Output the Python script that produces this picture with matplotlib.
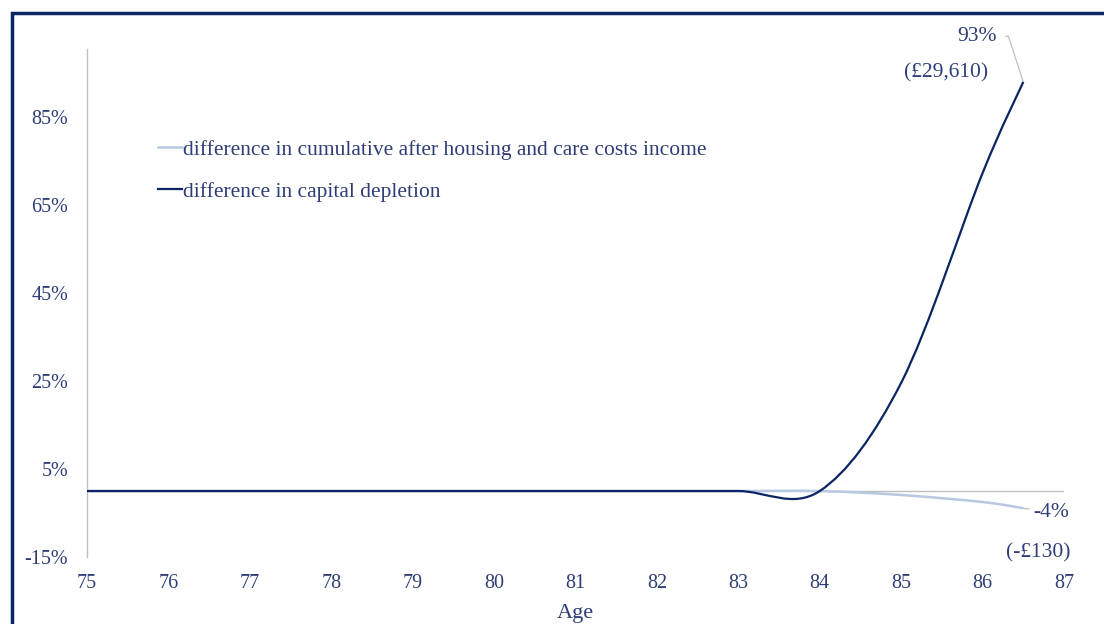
import matplotlib
matplotlib.use("Agg")
import matplotlib.pyplot as plt
from matplotlib.patches import Rectangle, PathPatch
from matplotlib.path import Path
from matplotlib.lines import Line2D

ages = [75, 76, 77, 78, 79, 80, 81, 82, 83, 84, 85, 86, 86.5]
income_diff = [0, 0, 0, 0, 0, 0, 0, 0, 0, 0, -0.9, -2.5, -3.9]
capital_diff = [0, 0, 0, 0, 0, 0, 0, 0, 0, 0, 24.6, 72.3, 93]
series_names = ["difference in cumulative after housing and care costs income",
                "difference in capital depletion"]
y_ticks = [-15, 5, 25, 45, 65, 85]
x_ticks = list(range(75, 88))

NAVY_TEXT = "#2E3D76"
DARK = "#0B2463"
LIGHT = "#B8C8E2"
AXIS = "#BFBFBF"

plt.rcParams['font.family'] = ['Liberation Serif', 'DejaVu Serif']


def smooth_path(xs, ys):
    """Excel-style smoothed line as cubic Bezier segments through the points."""
    n = len(xs)
    verts = [(xs[0], ys[0])]
    codes = [Path.MOVETO]
    for i in range(n - 1):
        a = i - 1 if i > 0 else i
        b = i + 2 if i + 2 < n else i + 1
        c1 = (xs[i] + (xs[i + 1] - xs[a]) / 6, ys[i] + (ys[i + 1] - ys[a]) / 6)
        c2 = (xs[i + 1] - (xs[b] - xs[i]) / 6, ys[i + 1] - (ys[b] - ys[i]) / 6)
        verts += [c1, c2, (xs[i + 1], ys[i + 1])]
        codes += [Path.CURVE4] * 3
    return Path(verts, codes)


fig = plt.figure(figsize=(11.04, 6.24), dpi=100)
W, H = 1104, 624
ax = fig.add_axes([87 / W, 1 - 557 / H, 977 / W, (557 - 49) / H])

ax.set_xlim(75, 87)
ax.set_ylim(-15, 100.5)
ax.axhline(0, color=AXIS, lw=1.0, zorder=2)

ax.add_patch(PathPatch(smooth_path(ages, income_diff), fill=False,
                       edgecolor=LIGHT, lw=1.8, zorder=3, capstyle='butt'))
ax.add_patch(PathPatch(smooth_path(ages, capital_diff), fill=False,
                       edgecolor=DARK, lw=1.6, zorder=4))

for s in ['top', 'right', 'bottom']:
    ax.spines[s].set_visible(False)
ax.spines['left'].set_color(AXIS)
ax.spines['left'].set_linewidth(1.0)

ax.set_yticks(y_ticks)
ax.set_yticklabels([f"{v}%" for v in y_ticks])
ax.set_xticks(x_ticks)
ax.set_xticklabels([str(v) for v in x_ticks])
ax.tick_params(axis='both', length=0, colors=NAVY_TEXT, labelsize=14.5)
ax.tick_params(axis='y', pad=13.5)
ax.tick_params(axis='x', pad=12.5)
ax.set_xlabel("Age", color=NAVY_TEXT, fontsize=16, labelpad=8)

handles = [Line2D([], [], color=LIGHT, lw=1.8), Line2D([], [], color=DARK, lw=1.6)]
ax.legend(handles, series_names, loc='upper left',
          bbox_to_anchor=(0.0727, 0.821), frameon=False, fontsize=15.5,
          handlelength=1.1, handletextpad=0.08, labelspacing=1.0,
          borderpad=0, borderaxespad=0, labelcolor=NAVY_TEXT)

# end annotations
ax.annotate("93%", xy=(86.5, 93), xytext=(86.18, 103.4), textcoords='data',
            color=NAVY_TEXT, fontsize=15.5, ha='right', va='center',
            annotation_clip=False,
            arrowprops=dict(arrowstyle='-', color=AXIS, lw=0.9,
                            connectionstyle='angle,angleA=0,angleB=108,rad=0',
                            shrinkA=4, shrinkB=0))
ax.text(85.546, 95.0, "(£29,610)", color=NAVY_TEXT, fontsize=15.5,
        ha='center', va='center')
ax.annotate("-4%", xy=(86.5, -3.9), xytext=(86.62, -4.8), textcoords='data',
            color=NAVY_TEXT, fontsize=15.5, ha='left', va='center',
            annotation_clip=False,
            arrowprops=dict(arrowstyle='-', color=AXIS, lw=0.9, shrinkA=1, shrinkB=0))
ax.text(87.08, -14.1, "(-£130)", color=NAVY_TEXT, fontsize=15.5,
        ha='right', va='center', clip_on=False)

# outer border
fig.patches.append(Rectangle((12 / W, -0.1), 1.2, 1 - 12.5 / H + 0.1,
                             transform=fig.transFigure, fill=False,
                             edgecolor="#0B2463", lw=2.5, zorder=10))

fig.savefig("out.png", dpi=100)
